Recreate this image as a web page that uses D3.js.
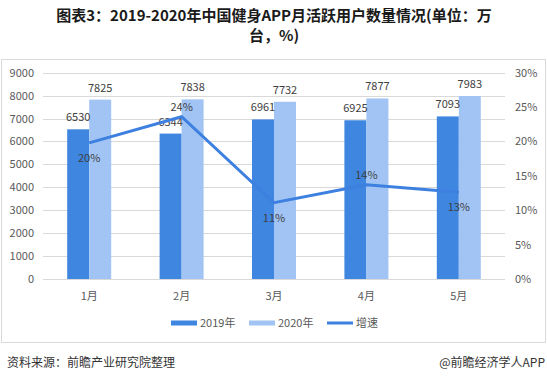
<!DOCTYPE html>
<html>
<head>
<meta charset="utf-8">
<script src="https://cdn.jsdelivr.net/npm/d3@7"></script>
<style>
  body { margin: 0; background: #fff; }
  svg { display: block; font-family: "Microsoft YaHei", "Noto Sans CJK SC", sans-serif; }
</style>
</head>
<body>
<svg id="chart" width="547" height="382"></svg>
<script>
const months = ['1月', '2月', '3月', '4月', '5月'];
const users2019 = [6530, 6344, 6961, 6925, 7093];
const users2020 = [7825, 7838, 7732, 7877, 7983];
const growth = [19.8, 23.6, 11.1, 13.7, 12.6];
const growthLabels = ['20%', '24%', '11%', '14%', '13%'];
const leftTicks = [0, 1000, 2000, 3000, 4000, 5000, 6000, 7000, 8000, 9000];
const rightTicks = [0, 5, 10, 15, 20, 25, 30];

const COLOR_2019 = '#3f86e0';
const COLOR_2020 = '#a1c4f4';
const COLOR_LINE = '#3d80e0';
const TEXT = '#404040';
const AXIS_TEXT = '#595959';

const svg = d3.select('#chart');

// Title, two lines
svg.append('text')
  .attr('x', 274).attr('y', 21)
  .attr('text-anchor', 'middle')
  .attr('font-size', '15px')
  .attr('font-weight', 'bold')
  .attr('fill', '#1a1a1a')
  .text('图表3：2019-2020年中国健身APP月活跃用户数量情况(单位：万');
svg.append('text')
  .attr('x', 274).attr('y', 41)
  .attr('text-anchor', 'middle')
  .attr('font-size', '15px')
  .attr('font-weight', 'bold')
  .attr('fill', '#1a1a1a')
  .text('台，%)');

// Chart frame
svg.append('rect')
  .attr('x', 1.5).attr('y', 59.5)
  .attr('width', 544).attr('height', 283)
  .attr('fill', 'none')
  .attr('stroke', '#d9d9d9');

const plot = { left: 43, right: 505, top: 72.7, bottom: 279 };

const x = d3.scaleBand()
  .domain(months)
  .range([plot.left, plot.right]);

const sub = d3.scaleBand()
  .domain(['2019', '2020'])
  .range([0, x.bandwidth()])
  .paddingInner(0)
  .paddingOuter(1.1);

const y = d3.scaleLinear().domain([0, 9000]).range([plot.bottom, plot.top]);
const yR = d3.scaleLinear().domain([0, 30]).range([plot.bottom, plot.top]);

// Gridlines
svg.append('g')
  .selectAll('line')
  .data(leftTicks)
  .enter().append('line')
  .attr('x1', plot.left)
  .attr('x2', plot.right)
  .attr('y1', d => Math.round(y(d)) + 0.5)
  .attr('y2', d => Math.round(y(d)) + 0.5)
  .attr('stroke', '#d9d9d9')
  .attr('stroke-width', 1);

// Left axis labels
svg.append('g')
  .selectAll('text')
  .data(leftTicks)
  .enter().append('text')
  .attr('x', 34)
  .attr('y', d => y(d) + 4)
  .attr('text-anchor', 'end')
  .attr('font-size', '11px')
  .attr('fill', AXIS_TEXT)
  .text(d => d);

// Right axis labels
svg.append('g')
  .selectAll('text')
  .data(rightTicks)
  .enter().append('text')
  .attr('x', 515)
  .attr('y', d => yR(d) + 4)
  .attr('font-size', '11px')
  .attr('fill', AXIS_TEXT)
  .text(d => d + '%');

// Bars
const groups = svg.append('g')
  .selectAll('g')
  .data(months)
  .enter().append('g')
  .attr('transform', d => `translate(${x(d)},0)`);

groups.append('rect')
  .attr('x', sub('2019'))
  .attr('y', (d, i) => y(users2019[i]))
  .attr('width', sub.bandwidth())
  .attr('height', (d, i) => plot.bottom - y(users2019[i]))
  .attr('fill', COLOR_2019);

groups.append('rect')
  .attr('x', sub('2020'))
  .attr('y', (d, i) => y(users2020[i]))
  .attr('width', sub.bandwidth())
  .attr('height', (d, i) => plot.bottom - y(users2020[i]))
  .attr('fill', COLOR_2020);

// Bar labels
groups.append('text')
  .attr('x', sub('2019') + sub.bandwidth() / 2)
  .attr('y', (d, i) => y(users2019[i]) - 8)
  .attr('text-anchor', 'middle')
  .attr('font-size', '11px')
  .attr('fill', TEXT)
  .text((d, i) => users2019[i]);

groups.append('text')
  .attr('x', sub('2020') + sub.bandwidth() / 2)
  .attr('y', (d, i) => y(users2020[i]) - 8)
  .attr('text-anchor', 'middle')
  .attr('font-size', '11px')
  .attr('fill', TEXT)
  .text((d, i) => users2020[i]);

// Growth line
const cx = d => x(d) + x.bandwidth() / 2;
const line = d3.line()
  .x((d, i) => cx(months[i]))
  .y(d => yR(d));

svg.append('path')
  .datum(growth)
  .attr('d', line)
  .attr('fill', 'none')
  .attr('stroke', COLOR_LINE)
  .attr('stroke-width', 3);

// Growth labels (above or below the point)
const labelBelow = [true, false, true, false, true];
svg.append('g')
  .selectAll('text')
  .data(growth)
  .enter().append('text')
  .attr('x', (d, i) => cx(months[i]))
  .attr('y', (d, i) => labelBelow[i] ? yR(d) + 19 : yR(d) - 6)
  .attr('text-anchor', 'middle')
  .attr('font-size', '11px')
  .attr('fill', TEXT)
  .text((d, i) => growthLabels[i]);

// X labels
svg.append('g')
  .selectAll('text')
  .data(months)
  .enter().append('text')
  .attr('x', d => cx(d))
  .attr('y', 300)
  .attr('text-anchor', 'middle')
  .attr('font-size', '11px')
  .attr('fill', AXIS_TEXT)
  .text(d => d);

// Legend
const legend = svg.append('g').attr('font-size', '11px').attr('fill', AXIS_TEXT);
legend.append('rect').attr('x', 171).attr('y', 320.5).attr('width', 26).attr('height', 5).attr('fill', COLOR_2019);
legend.append('text').attr('x', 200).attr('y', 327).text('2019年');
legend.append('rect').attr('x', 249).attr('y', 320.5).attr('width', 26).attr('height', 5).attr('fill', COLOR_2020);
legend.append('text').attr('x', 278).attr('y', 327).text('2020年');
legend.append('line').attr('x1', 327).attr('x2', 353).attr('y1', 323).attr('y2', 323)
  .attr('stroke', COLOR_LINE).attr('stroke-width', 3);
legend.append('text').attr('x', 356).attr('y', 327).text('增速');

// Footer
svg.append('text')
  .attr('x', 7).attr('y', 367)
  .attr('font-size', '12px')
  .attr('fill', '#333')
  .text('资料来源：前瞻产业研究院整理');

svg.append('text')
  .attr('x', 545).attr('y', 367)
  .attr('text-anchor', 'end')
  .attr('font-size', '12px')
  .attr('fill', '#333')
  .text('@前瞻经济学人APP');
</script>
</body>
</html>
